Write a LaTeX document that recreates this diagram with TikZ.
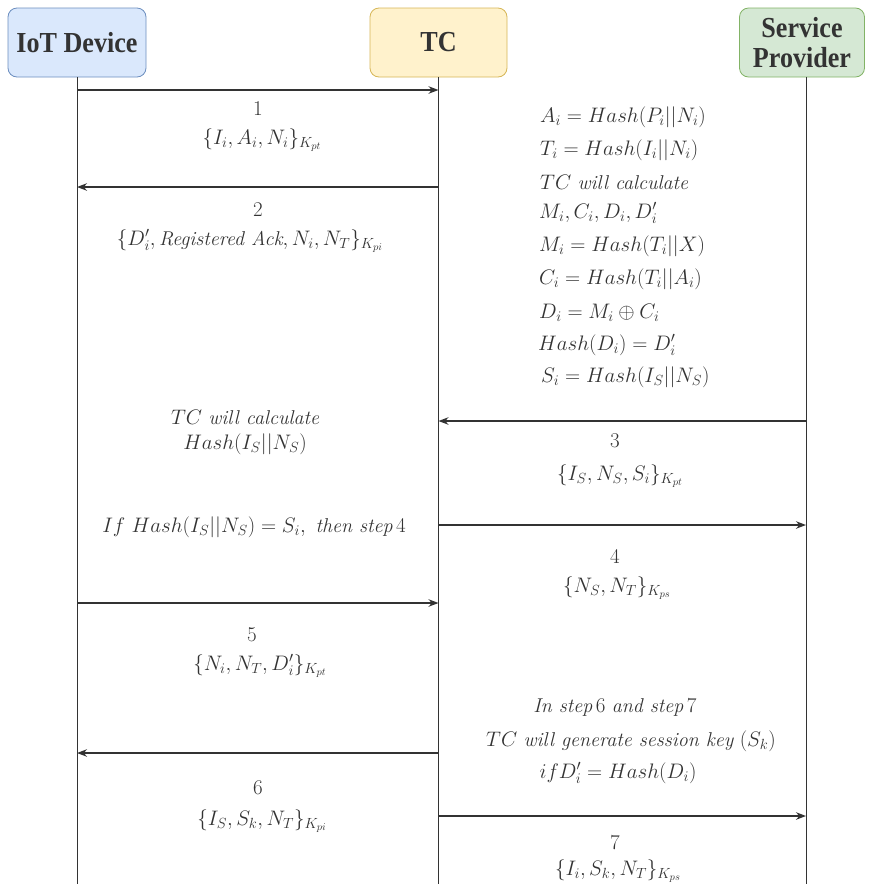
\RequirePackage{fix-cm}
\documentclass[tikz,border=0pt]{standalone}
\usepackage{fontspec}
\newfontfamily\hdr[FakeStretch=0.9]{Liberation Serif}
\usetikzlibrary{arrows.meta}
\definecolor{iotfill}{HTML}{DAE8FC}\definecolor{iotline}{HTML}{6C8EBF}
\definecolor{tcfill}{HTML}{FFF2CC}\definecolor{tcline}{HTML}{D6B656}
\definecolor{spfill}{HTML}{D5E8D4}\definecolor{spline}{HTML}{82B366}
\definecolor{ink}{HTML}{333333}
\newcommand{\wrd}[1]{\textit{\fontsize{20}{24}\selectfont #1}}
\begin{document}
\begin{tikzpicture}[x=1pt,y=-1pt,
  hbox/.style={draw, rounded corners=9pt, minimum height=69pt, line width=0.8pt,
    font=\hdr\bfseries\fontsize{29}{29}\selectfont, align=center, inner sep=2pt, text=ink},
  life/.style={draw=ink, line width=1pt},
  msg/.style={draw=ink, line width=1.3pt, -{Stealth[length=10pt,width=7.5pt]}},
  lbl/.style={font=\fontsize{21}{24}\selectfont, inner sep=0pt, text=ink},
  eq/.style={lbl, anchor=west}]
\useasboundingbox (0,0) rectangle (871,884);
% headers
\node[hbox, fill=iotfill, draw=iotline, minimum width=138pt] (iot) at (77,42.5) {IoT Device};
\node[hbox, fill=tcfill, draw=tcline, minimum width=137pt] (tc) at (438.5,42.5) {TC};
\node[hbox, fill=spfill, draw=spline, minimum width=125pt] (sp) at (802,42.5) {Service\\[1pt]Provider};
% lifeline ends
\coordinate (iotb) at (77,884);
\coordinate (tcb) at (438.5,884);
\coordinate (spb) at (806,884);
\coordinate (spt) at (806,77);
\draw[life] (iot.south) -- (iotb);
\draw[life] (tc.south) -- (tcb);
\draw[life] (spt) -- (spb);
% message anchor points
\foreach \n/\y in {1/90,2/187,5/603,6/753} {
  \coordinate (i\n) at (77,\y);
  \coordinate (t\n) at (438.5,\y);
}
\foreach \n/\y in {3/421,4/525,7/816} {
  \coordinate (t\n) at (438.5,\y);
  \coordinate (s\n) at (806,\y);
}
\draw[msg] (i1) -- (t1);
\draw[msg] (t2) -- (i2);
\draw[msg] (s3) -- (t3);
\draw[msg] (t4) -- (s4);
\draw[msg] (i5) -- (t5);
\draw[msg] (t6) -- (i6);
\draw[msg] (t7) -- (s7);
% message labels
\node[lbl] (n1) at (258,109) {$1$};
\node[lbl] (m1) at (262,140) {$\{I_i,A_i,N_i\}_{K_{pt}}$};
\node[lbl] (n2) at (258,210) {$2$};
\node[lbl] (m2) at (250,241) {$\{D'_i,\wrd{Registered Ack},N_i,N_T\}_{K_{pi}}$};
\node[lbl] (n3) at (615,441) {$3$};
\node[lbl] (m3) at (620,476) {$\{I_S,N_S,S_i\}_{K_{pt}}$};
\node[lbl] (n4) at (615,557) {$4$};
\node[lbl] (m4) at (617,588) {$\{N_S,N_T\}_{K_{ps}}$};
\node[lbl] (n5) at (252,635) {$5$};
\node[lbl] (m5) at (260,666) {$\{N_i,N_T,D'_i\}_{K_{pt}}$};
\node[lbl] (n6) at (258,788) {$6$};
\node[lbl] (m6) at (262,821) {$\{I_S,S_k,N_T\}_{K_{pi}}$};
\node[lbl] (n7) at (615,843) {$7$};
\node[lbl] (m7) at (618,871) {$\{I_i,S_k,N_T\}_{K_{ps}}$};
% TC computations (right column)
\node[eq] (e1) at (540,117) {$A_i=Hash(P_i||N_i)$};
\node[eq] (e2) at (540,150) {$T_i=Hash(I_i||N_i)$};
\node[eq] (e3) at (540,182) {$TC\ \wrd{will calculate}$};
\node[eq] (e4) at (539,213) {$M_i,C_i,D_i,D'_i$};
\node[eq] (e5) at (539,246) {$M_i=Hash(T_i||X)$};
\node[eq] (e6) at (539,279) {$C_i=Hash(T_i||A_i)$};
\node[eq] (e7) at (539,313) {$D_i=M_i\oplus C_i$};
\node[eq] (e8) at (538,345) {$Hash(D_i)=D'_i$};
\node[eq] (e9) at (541,377) {$S_i=Hash(I_S||N_S)$};
% left notes
\node[lbl] (c1) at (245,417) {$TC\ \wrd{will calculate}$};
\node[lbl] (c2) at (245,444) {$Hash(I_S||N_S)$};
\node[lbl] (c3) at (254,527) {$If\ Hash(I_S||N_S)=S_i,\ \wrd{then step}\,4$};
% session key notes
\node[lbl] (k1) at (615,707) {$\wrd{In step}\,6\ \wrd{and step}\,7$};
\node[lbl] (k2) at (631,741) {$TC\ \wrd{will generate session key}\ (S_k)$};
\node[lbl] (k3) at (618,773) {$if D'_i=Hash(D_i)$};
\end{tikzpicture}
\end{document}
